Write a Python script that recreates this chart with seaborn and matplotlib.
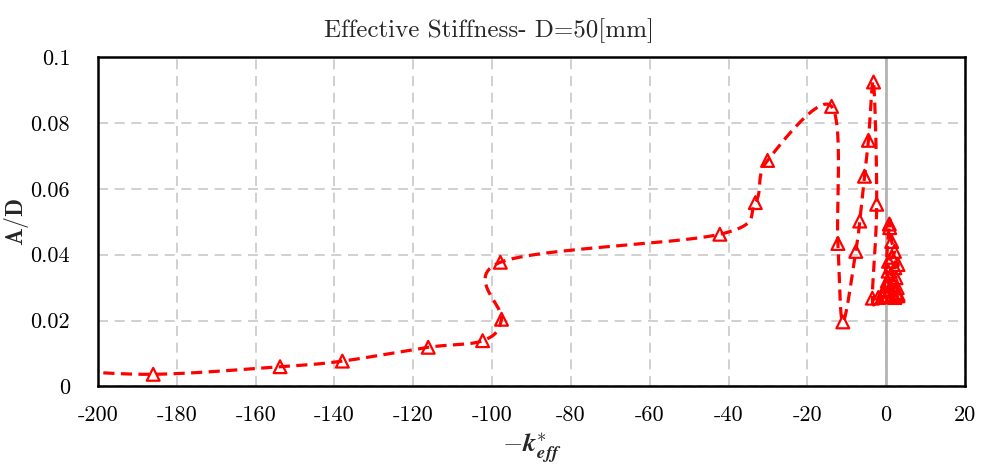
import numpy as np
import pandas as pd
import matplotlib
matplotlib.use("Agg")
import matplotlib.pyplot as plt
import seaborn as sns

# 读图得到的数据点 (-k_eff*, A/D)
k_eff = [-212, -186, -153.8, -138, -116.2, -102.4, -97.6, -97.9,
         -42.2, -33.2, -30.1, -13.85, -12.25, -11.0,
         -7.7, -6.7, -5.5, -4.5, -3.2, -2.4, -3.5,
         -2.0, -0.8, 0.8, 0.9, 1.4, 2.1, 1.5, 0.6, 3.0, 2.2,
         0.5, 1.2, 2.5, 0.3, 1.8, 0.0, 2.8, 1.0, -0.5, 2.5,
         3.0, 1.5, 0.2, -1.0, 2.2, 3.0]
a_d = [0.0052, 0.0037, 0.0060, 0.0077, 0.0119, 0.0139, 0.0204, 0.0377,
       0.0462, 0.0558, 0.0686, 0.0850, 0.0434, 0.0196,
       0.0410, 0.0502, 0.0638, 0.0747, 0.0924, 0.0553, 0.0268,
       0.0270, 0.0272, 0.0493, 0.0482, 0.0440, 0.0410, 0.0392, 0.0380, 0.0370, 0.0360,
       0.0350, 0.0340, 0.0330, 0.0320, 0.0310, 0.0305, 0.0300, 0.0295, 0.0290, 0.0285,
       0.0280, 0.0278, 0.0275, 0.0272, 0.0270, 0.0275]

xticks = list(range(-200, 21, 20))
yticks = [0, 0.02, 0.04, 0.06, 0.08, 0.1]
ytick_labels = ["0", "0.02", "0.04", "0.06", "0.08", "0.1"]

sns.set_theme(style="white")
plt.rcParams['font.family'] = ['cmr10', 'DejaVu Serif']
plt.rcParams['mathtext.fontset'] = 'cm'
plt.rcParams['axes.unicode_minus'] = False


def smooth_line(x, y, sx=3.94, sy=3300.0, n=24):
    """类似 Excel 平滑线: 在像素尺度上做 Catmull-Rom 贝塞尔"""
    p = np.column_stack([np.asarray(x) * sx, np.asarray(y) * sy])
    pts = []
    for i in range(len(p) - 1):
        p0 = p[i - 1] if i > 0 else p[i]
        p3 = p[i + 2] if i + 2 < len(p) else p[i + 1]
        c1 = p[i] + (p[i + 1] - p0) / 6
        c2 = p[i + 1] - (p3 - p[i]) / 6
        t = np.linspace(0, 1, n)[:, None]
        seg = ((1 - t) ** 3 * p[i] + 3 * (1 - t) ** 2 * t * c1
               + 3 * (1 - t) * t ** 2 * c2 + t ** 3 * p[i + 1])
        pts.append(seg if i == 0 else seg[1:])
    pts = np.vstack(pts)
    return pts[:, 0] / sx, pts[:, 1] / sy


sx_, sy_ = smooth_line(k_eff, a_d)
curve = pd.DataFrame({"k": sx_, "ad": sy_})
df = pd.DataFrame({"k": k_eff, "ad": a_d})

fig = plt.figure(figsize=(9.88, 4.67), dpi=100)
ax = fig.add_axes([0.0992, 0.1724, 0.8775, 0.7056])

ax.axvline(0, color="#b4b4b4", linewidth=2, zorder=1)
sns.lineplot(data=curve, x="k", y="ad", sort=False, estimator=None, ax=ax,
             color="red", linestyle=(0, (3.5, 2)), linewidth=2.3, zorder=3)
sns.scatterplot(data=df, x="k", y="ad", ax=ax, marker="^", s=85,
                facecolors="none", edgecolor="red", linewidth=1.6, zorder=4)

ax.set_xlim(-200, 20)
ax.set_ylim(0, 0.1)
ax.set_xticks(xticks)
ax.set_xticklabels([str(v) for v in xticks])
ax.set_yticks(yticks)
ax.set_yticklabels(ytick_labels)
ax.grid(True, color="#c8c8c8", linestyle=(0, (6, 4)), linewidth=1.2)
ax.set_axisbelow(True)
ax.tick_params(axis="both", direction="in", labelsize=16, length=4, width=0.8,
               colors="black")
ax.tick_params(axis="x", pad=14)
ax.tick_params(axis="y", length=0, pad=20)
for sp in ax.spines.values():
    sp.set_color("black")
    sp.set_linewidth(1.8)

ax.set_xlabel(r"$\mathbf{-}\boldsymbol{k}^{*}_{\boldsymbol{eff}}$", fontsize=19, labelpad=4)
ax.set_ylabel(r"$\mathbf{A/D}$", fontsize=17)
ax.yaxis.set_label_coords(-0.077, 0.5)
ax.set_title("Effective Stiffness- D=50[mm]", fontsize=18, pad=14, x=0.451)

fig.savefig("out.png", dpi=100)
